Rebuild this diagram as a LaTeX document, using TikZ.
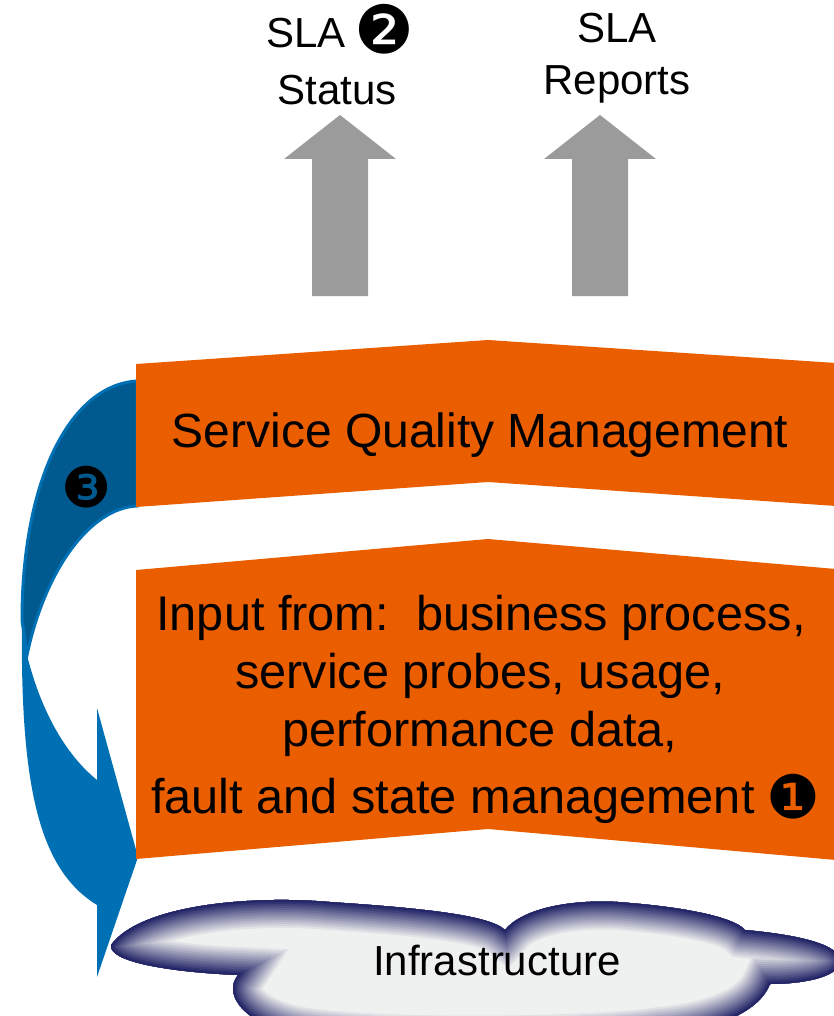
\documentclass[tikz,border=0pt]{standalone}
\usepackage{fontspec}
\setmainfont{Liberation Sans}
\newfontfamily\dingfont{DejaVu Sans}
\definecolor{sqorange}{RGB}{234,94,0}
\definecolor{arrowgray}{RGB}{155,155,155}
\definecolor{loopblue}{RGB}{0,112,180}
\definecolor{loopdark}{RGB}{0,90,143}
\definecolor{cloudlight}{RGB}{239,240,240}
\definecolor{clouddark}{RGB}{36,38,104}
\newcommand{\cloudpath}{(111,945) .. controls (140,905) and (250,895) .. (330,902)
  .. controls (420,908) and (490,915) .. (505,930)
  .. controls (525,905) and (585,898) .. (630,903)
  .. controls (690,908) and (735,918) .. (745,930)
  .. controls (800,935) and (842,945) .. (840,962)
  .. controls (838,978) and (800,984) .. (770,984)
  .. controls (760,1010) and (720,1030) .. (660,1035)
  .. controls (600,1045) and (380,1048) .. (300,1035)
  .. controls (245,1025) and (222,995) .. (238,975)
  .. controls (170,972) and (108,962) .. (111,945) -- cycle}
\begin{document}
\begin{tikzpicture}[x=0.75pt,y=-0.75pt]
  \tikzstyle{chevron} = [fill=sqorange]
  \tikzstyle{grayarrow} = [fill=arrowgray]
  \tikzstyle{bigtext} = [inner sep=0pt, anchor=base, font=\fontsize{36}{43}\selectfont]
  \tikzstyle{inputtext} = [inner sep=0pt, anchor=base, font=\fontsize{36.5}{43}\selectfont]
  \tikzstyle{slatext} = [inner sep=0pt, anchor=base, font=\fontsize{31.5}{39}\selectfont]
  \tikzstyle{dingnum} = [inner sep=0pt, anchor=center]
  \useasboundingbox (0,0) rectangle (834,1016);

  % infrastructure cloud
  \begin{scope}
    \clip \cloudpath;
    \fill[cloudlight] \cloudpath;
    \foreach \i in {1,...,14} {
      \pgfmathsetmacro\shade{\i*100/14}
      \draw[line width={(15-\i)*3pt}, color=clouddark!\shade!cloudlight] \cloudpath;
    }
  \end{scope}
  \node (infra) [slatext] at (497,975) {Infrastructure};

  % feedback loop
  \fill[loopblue] (22,620) .. controls (20,790) and (40,870) .. (97,905) -- (97,977)
    -- (138,857) -- (97,708) -- (97,780) .. controls (60,750) and (38,700) .. (27,655) -- cycle;
  \filldraw[fill=loopdark, draw=loopblue, line width=2.25pt] (137,381) .. controls (70,385) and (22,480) .. (22,620)
    -- (27,655) .. controls (45,570) and (90,508) .. (137,506) -- cycle;
  \node (three) [dingnum, font=\dingfont\fontsize{42}{42}\selectfont] at (87,487) {❸};

  % layers
  \fill[chevron] (136,364) -- (488,340) -- (836,363) -- (836,506) -- (488,482) -- (136,507) -- cycle;
  \fill[chevron] (136,570) -- (488,539) -- (836,569) -- (836,860) -- (488,829) -- (136,859) -- cycle;
  \node (sqm) [bigtext] at (480,447) {Service Quality Management};

  \node (in1) [inputtext] at (481,630) {Input from:\ \ business process,};
  \node (in2) [inputtext] at (480,688) {service probes, usage,};
  \node (in3) [inputtext] at (480,746) {performance data,};
  \node (in4) [inputtext] at (453,813) {fault and state management};
  \node (one) [dingnum, font=\dingfont\fontsize{45}{45}\selectfont] at (793,797) {❶};

  % outputs
  \foreach \cx in {340,600} {
    \fill[grayarrow] (\cx-28,296) -- (\cx-28,159) -- (\cx-56,159) -- (\cx,115)
      -- (\cx+56,159) -- (\cx+28,159) -- (\cx+28,296) -- cycle;
  }
  \node (sla1) [slatext] at (306,48) {SLA};
  \node (two) [dingnum, font=\dingfont\fontsize{50}{50}\selectfont] at (384,29) {❷};
  \node (status) [slatext] at (337,105) {Status};
  \node (sla2) [slatext] at (617,43) {SLA};
  \node (reports) [slatext] at (617,95) {Reports};
\end{tikzpicture}
\end{document}
